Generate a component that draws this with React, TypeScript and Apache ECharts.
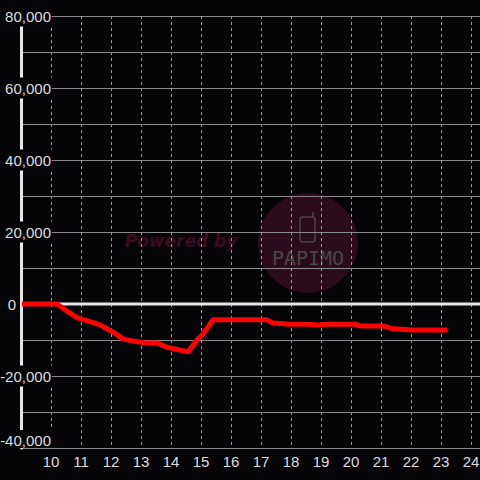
import React, { useEffect, useRef } from "react";
import * as echarts from "echarts";

const hours = [9.03, 10.2, 10.57, 10.9, 11.47, 11.63, 11.87, 12.13, 12.4, 12.73, 13.13, 13.53, 13.87, 14.57, 14.87, 15.07, 15.4, 17.2, 17.4, 17.97, 18.53, 18.9, 19.2, 20.13, 20.3, 21.07, 21.4, 22.07, 23.2];
const values = [0, 0, -2200, -3900, -5300, -5800, -6900, -8100, -9700, -10300, -10800, -10800, -12000, -13300, -10000, -8300, -4400, -4400, -5300, -5600, -5600, -5800, -5600, -5600, -6100, -6100, -6900, -7200, -7200];
const xTicks = [10, 11, 12, 13, 14, 15, 16, 17, 18, 19, 20, 21, 22, 23, 24];
const yLabelValues = [-40000, -20000, 0, 20000, 40000, 60000, 80000];

const BG = "#050407";
const FONT = "Liberation Sans, Arial, sans-serif";

export default function App() {
  const ref = useRef<HTMLDivElement>(null);
  useEffect(() => {
    if (!ref.current) return;
    const chart = echarts.init(ref.current, null, { renderer: "svg" });
    const data = hours.map((h, i) => [h, values[i]]);
    chart.setOption({
      animation: false,
      backgroundColor: BG,
      grid: { left: 21, right: 0, top: 16, bottom: 32, containLabel: false, outerBoundsMode: "none" },
      xAxis: {
        type: "value",
        min: 9,
        max: 24.3,
        interval: 1,
        axisLine: { show: false },
        axisTick: { show: false },
        axisLabel: {
          color: "#dddddd",
          fontSize: 15,
          fontFamily: FONT,
          margin: 6,
          showMaxLabel: false,
          formatter: (v: number) => (xTicks.indexOf(v) >= 0 ? String(v) : ""),
        },
        splitLine: { show: true, lineStyle: { color: "#9a9a9a", width: 1, type: [3, 3] } },
      },
      yAxis: {
        type: "value",
        min: -40000,
        max: 80000,
        interval: 10000,
        axisLine: { show: true, onZero: false, lineStyle: { color: "#e6e6e6", width: 3 } },
        axisTick: { show: false },
        axisLabel: {
          color: "#dddddd",
          fontSize: 15,
          fontFamily: FONT,
          margin: -31,
          align: "right",
          verticalAlignMinLabel: "bottom",
          formatter: (v: number) => {
            if (yLabelValues.indexOf(v) < 0) return "";
            if (v === 0) return "{z|0}";
            if (v === -40000) return "{m|" + v.toLocaleString("en-US") + "}";
            return "{a|" + v.toLocaleString("en-US") + "}";
          },
          rich: {
            a: { backgroundColor: BG, padding: [3, 1, 3, 3], color: "#dddddd", fontSize: 15, fontFamily: FONT },
            m: { backgroundColor: BG, padding: [3, 1, 0, 3], color: "#dddddd", fontSize: 15, fontFamily: FONT },
            z: { padding: [0, 36, 0, 0], color: "#dddddd", fontSize: 15, fontFamily: FONT },
          },
        },
        splitLine: { show: true, lineStyle: { color: "#8a8a8a", width: 1 } },
      },
      graphic: [
        { type: "circle", z: -10, shape: { cx: 308, cy: 243, r: 50 }, style: { fill: "#2b0b1c" }, silent: true },
        {
          type: "text", z: -9, x: 181, y: 241,
          style: { text: "Powered by", fill: "#3e0a1f", font: "italic bold 17px 'DejaVu Sans', sans-serif", align: "center", verticalAlign: "middle" },
          silent: true,
        },
        {
          type: "text", z: -9, x: 308, y: 258,
          style: { text: "PAPIMO", fill: "#474747", font: "20px 'DejaVu Sans Mono', monospace", align: "center", verticalAlign: "middle" },
          silent: true,
        },
        { type: "rect", z: -9, shape: { x: 300, y: 217, width: 15, height: 25, r: 3 }, style: { fill: "none", stroke: "#474747", lineWidth: 1.5 }, silent: true },
        { type: "line", z: -9, shape: { x1: 313, y1: 217, x2: 313, y2: 212 }, style: { stroke: "#474747", lineWidth: 1.5 }, silent: true },
      ],
      series: [
        {
          type: "line",
          data: [[9, 0], [24.3, 0]],
          symbol: "none",
          silent: true,
          lineStyle: { color: "#e6e6e6", width: 3 },
          z: 2,
        },
        {
          type: "line",
          data,
          symbol: "none",
          lineStyle: { color: "#ff0000", width: 5, cap: "butt", join: "round" },
          z: 3,
        },
      ],
    });
    return () => chart.dispose();
  }, []);
  return <div ref={ref} style={{ position: "fixed", left: 0, top: 0, width: 480, height: 480 }} />;
}
